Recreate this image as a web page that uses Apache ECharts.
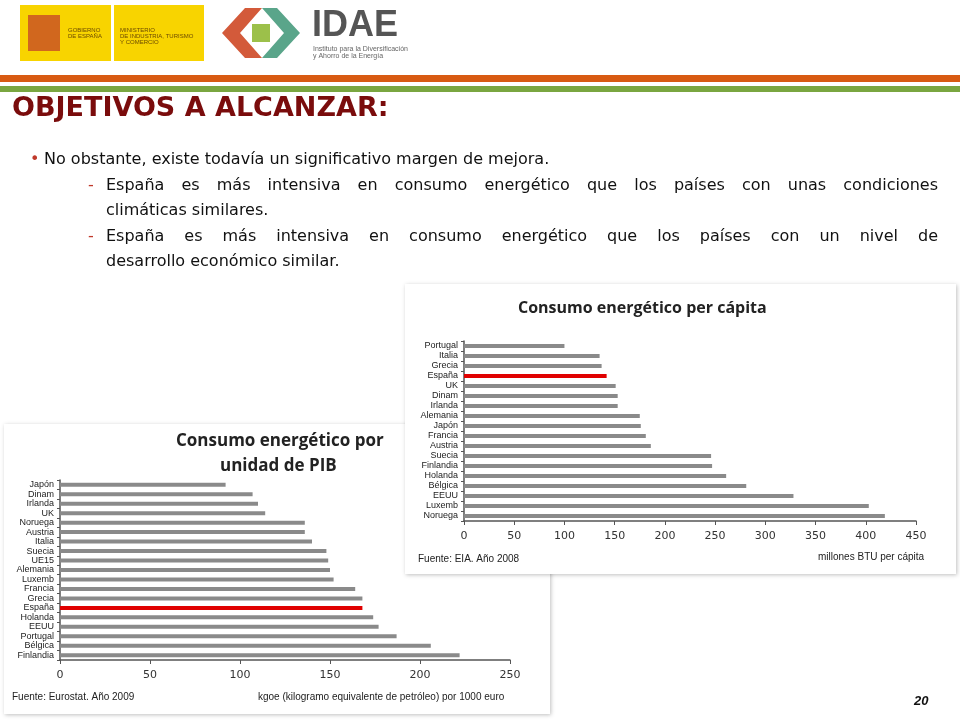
<!DOCTYPE html>
<html>
<head>
<meta charset="utf-8">
<script src="https://cdn.jsdelivr.net/npm/echarts@6/dist/echarts.min.js"></script>
<style>html,body{margin:0;padding:0;background:#fff}#main{width:960px;height:720px}</style>
</head>
<body>
<div id="main"></div>
<script>
// Consumo energético por unidad de PIB (kgoe / 1000 euro), Eurostat 2009
var pibPaises = ['Finlandia', 'Bélgica', 'Portugal', 'EEUU', 'Holanda', 'España', 'Grecia', 'Francia', 'Luxemb', 'Alemania', 'UE15', 'Suecia', 'Italia', 'Austria', 'Noruega', 'UK', 'Irlanda', 'Dinam', 'Japón'];
var pibValores = [222, 206, 187, 177, 174, 168, 168, 164, 152, 150, 149, 148, 140, 136, 136, 114, 110, 107, 92];

// Consumo energético per cápita (millones BTU), EIA 2008
var capPaises = ['Noruega', 'Luxemb', 'EEUU', 'Bélgica', 'Holanda', 'Finlandia', 'Suecia', 'Austria', 'Francia', 'Japón', 'Alemania', 'Irlanda', 'Dinam', 'UK', 'España', 'Grecia', 'Italia', 'Portugal'];
var capValores = [419, 403, 328, 281, 261, 247, 246, 186, 181, 176, 175, 153, 153, 151, 142, 137, 135, 100];

function barData(paises, valores) {
	return valores.map(function (v, i) {
		return { value: v, itemStyle: { color: paises[i] === 'España' ? '#e00000' : '#8a8a8a' } };
	});
}

// texto justificado: una palabra por elemento
var ctx = document.createElement('canvas').getContext('2d');
var FONT = '16px "DejaVu Sans"';
ctx.font = FONT;
function linea(texto, x, y, ancho, justificar) {
	var palabras = texto.split(' ');
	var anchos = palabras.map(function (p) { return ctx.measureText(p).width; });
	var total = anchos.reduce(function (a, b) { return a + b; }, 0);
	var hueco = justificar ? (ancho - total) / (palabras.length - 1) : ctx.measureText(' ').width;
	var out = [], cx = x;
	palabras.forEach(function (p, i) {
		out.push({ type: 'text', left: cx, top: y, style: { text: p, font: FONT, fill: '#111' } });
		cx += anchos[i] + hueco;
	});
	return out;
}

var chart = echarts.init(document.getElementById('main'));
var axisFont = { fontFamily: 'Liberation Sans', fontSize: 9, color: '#222', interval: 0 };
var eje = { show: true, lineStyle: { color: '#555', width: 1.5 } };

var texto = [].concat(
	linea('No obstante, existe todavía un significativo margen de mejora.', 44, 152, 0, false),
	linea('España es más intensiva en consumo energético que los países con unas condiciones', 106, 178, 832, true),
	linea('climáticas similares.', 106, 203, 0, false),
	linea('España es más intensiva en consumo energético que los países con un nivel de', 106, 229, 832, true),
	linea('desarrollo económico similar.', 106, 254, 0, false)
);

var option = {
	animation: false,
	backgroundColor: '#fff',
	grid: [
		{ left: 60, right: 450, top: 480, bottom: 60 },
		{ left: 464, right: 44, top: 341, bottom: 199 }
	],
	xAxis: [
		{ gridIndex: 0, type: 'value', min: 0, max: 250, interval: 50, axisLine: eje, axisTick: { show: true, length: 4, lineStyle: { color: '#555' } }, splitLine: { show: false }, axisLabel: { fontFamily: 'DejaVu Sans', fontSize: 11, color: '#333', margin: 10 } },
		{ gridIndex: 1, type: 'value', min: 0, max: 450, interval: 50, axisLine: eje, axisTick: { show: true, length: 4, lineStyle: { color: '#555' } }, splitLine: { show: false }, axisLabel: { fontFamily: 'DejaVu Sans', fontSize: 11, color: '#333', margin: 10 } }
	],
	yAxis: [
		{ gridIndex: 0, type: 'category', data: pibPaises, axisLine: eje, axisTick: { show: true, length: 3, interval: 0, lineStyle: { color: '#555' } }, axisLabel: Object.assign({ margin: 6 }, axisFont) },
		{ gridIndex: 1, type: 'category', data: capPaises, axisLine: eje, axisTick: { show: true, length: 3, interval: 0, lineStyle: { color: '#555' } }, axisLabel: Object.assign({ margin: 6 }, axisFont) }
	],
	series: [
		{ type: 'bar', xAxisIndex: 0, yAxisIndex: 0, barWidth: 4, data: barData(pibPaises, pibValores) },
		{ type: 'bar', xAxisIndex: 1, yAxisIndex: 1, barWidth: 4, data: barData(capPaises, capValores) }
	],
	graphic: [
		// caja gráfico PIB
		{ type: 'rect', z: -10, shape: { x: 4, y: 424, width: 546, height: 290 }, style: { fill: '#fff', shadowBlur: 4, shadowColor: 'rgba(0,0,0,0.25)', shadowOffsetX: 1, shadowOffsetY: 1 } },
		// caja gráfico per cápita
		{ type: 'rect', z: -9, shape: { x: 405, y: 284, width: 551, height: 290 }, style: { fill: '#fff', shadowBlur: 4, shadowColor: 'rgba(0,0,0,0.25)', shadowOffsetX: 1, shadowOffsetY: 1 } },
		{ type: 'text', left: 176, top: 433, style: { text: 'Consumo energético por', font: 'bold 17px "Open Sans"', fill: '#222' } },
		{ type: 'text', left: 220, top: 458, style: { text: 'unidad de PIB', font: 'bold 17px "Open Sans"', fill: '#222' } },
		{ type: 'text', left: 518, top: 300, style: { text: 'Consumo energético per cápita', font: 'bold 16px "Open Sans"', fill: '#222' } },
		{ type: 'text', left: 12, top: 692, style: { text: 'Fuente: Eurostat. Año 2009', font: '10px "Liberation Sans"', fill: '#222' } },
		{ type: 'text', left: 258, top: 692, style: { text: 'kgoe (kilogramo equivalente de petróleo) por 1000 euro', font: '10px "Liberation Sans"', fill: '#222' } },
		{ type: 'text', left: 418, top: 554, style: { text: 'Fuente: EIA. Año 2008', font: '10px "Liberation Sans"', fill: '#222' } },
		{ type: 'text', left: 818, top: 552, style: { text: 'millones BTU per cápita', font: '10px "Liberation Sans"', fill: '#222' } },
		// cabecera
		{ type: 'rect', shape: { x: 20, y: 5, width: 91, height: 56 }, style: { fill: '#f8d400' } },
		{ type: 'rect', shape: { x: 114, y: 5, width: 90, height: 56 }, style: { fill: '#f8d400' } },
		{ type: 'rect', shape: { x: 28, y: 15, width: 32, height: 36 }, style: { fill: '#c0392b', opacity: 0.7 } },
		{ type: 'text', left: 68, top: 27, style: { text: 'GOBIERNO\nDE ESPAÑA', font: '6px "Liberation Sans"', fill: '#6b4a00' } },
		{ type: 'text', left: 120, top: 27, style: { text: 'MINISTERIO\nDE INDUSTRIA, TURISMO\nY COMERCIO', font: '6px "Liberation Sans"', fill: '#6b4a00' } },
		{ type: 'polygon', shape: { points: [[222, 33], [245, 8], [262, 8], [240, 33], [262, 58], [245, 58]] }, style: { fill: '#d35a3a' } },
		{ type: 'polygon', shape: { points: [[300, 33], [277, 8], [262, 8], [284, 33], [262, 58], [277, 58]] }, style: { fill: '#5aa58a' } },
		{ type: 'rect', shape: { x: 252, y: 24, width: 18, height: 18 }, style: { fill: '#9cc04a' } },
		{ type: 'text', left: 312, top: 8, style: { text: 'IDAE', font: 'bold 36px "Liberation Sans"', fill: '#555' } },
		{ type: 'text', left: 313, top: 46, style: { text: 'Instituto para la Diversificación\ny Ahorro de la Energía', font: '7px "Liberation Sans"', fill: '#666' } },
		{ type: 'rect', shape: { x: 0, y: 75, width: 960, height: 7 }, style: { fill: '#d85a12' } },
		{ type: 'rect', shape: { x: 0, y: 86, width: 960, height: 6 }, style: { fill: '#7aa640' } },
		{ type: 'text', left: 12, top: 95, style: { text: 'OBJETIVOS A ALCANZAR:', font: 'bold 27px "DejaVu Sans"', fill: '#7a0c0c' } },
		{ type: 'text', left: 30, top: 152, style: { text: '•', font: FONT, fill: '#c0392b' } },
		{ type: 'text', left: 88, top: 178, style: { text: '-', font: FONT, fill: '#c0392b' } },
		{ type: 'text', left: 88, top: 229, style: { text: '-', font: FONT, fill: '#c0392b' } },
		{ type: 'text', left: 914, top: 695, style: { text: '20', font: 'italic bold 13px "Liberation Sans"', fill: '#111' } }
	].concat(texto)
};
chart.setOption(option);
</script>
</body>
</html>
